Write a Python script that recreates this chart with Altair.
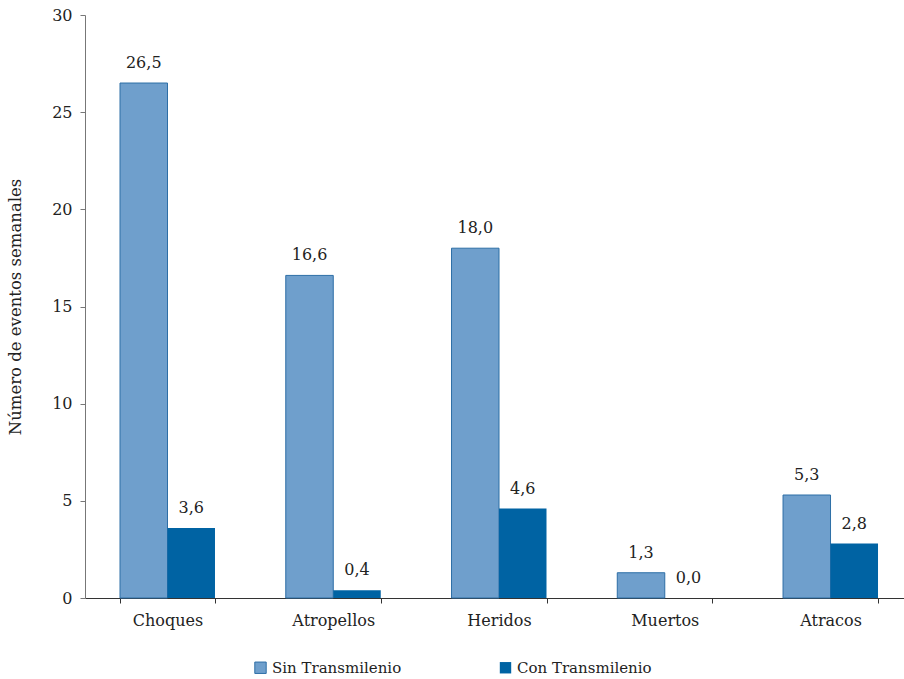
import altair as alt
import pandas as pd

categories = ["Choques", "Atropellos", "Heridos", "Muertos", "Atracos"]
series = ["Sin Transmilenio", "Con Transmilenio"]
sin_vals = [26.5, 16.6, 18.0, 1.3, 5.3]
con_vals = [3.6, 0.4, 4.6, 0.0, 2.8]

rows = []
for c, s, k in zip(categories, sin_vals, con_vals):
    rows.append({"cat": c, "serie": series[0], "valor": s})
    rows.append({"cat": c, "serie": series[1], "valor": k})
df = pd.DataFrame(rows)

FONT = "DejaVu Serif"

base = alt.Chart(df).encode(
    x=alt.X("cat:N", sort=categories,
            scale=alt.Scale(paddingInner=0.427, paddingOuter=0.184, align=0.574),
            axis=alt.Axis(title=None, labelAngle=0, labelFontSize=16, labelFont=FONT,
                          labelColor="#222", labelPadding=9, tickBand="extent",
                          tickSize=5, domainColor="#333", tickColor="#333")),
    xOffset=alt.XOffset("serie:N", sort=series),
    y=alt.Y("valor:Q", scale=alt.Scale(domain=[0, 30]),
            axis=alt.Axis(title="Número de eventos semanales", values=[0, 5, 10, 15, 20, 25, 30],
                          labelFontSize=16, labelFont=FONT, labelColor="#222", labelPadding=8,
                          titleFont=FONT, titleFontSize=16.5, titleFontWeight="normal",
                          titleColor="#222", titlePadding=28, grid=False, tickSize=5,
                          domainColor="#777", tickColor="#777")),
)

bars = base.mark_bar(strokeWidth=1).encode(
    color=alt.Color("serie:N", sort=series,
                    scale=alt.Scale(domain=series, range=["#6f9fcc", "#0063a3"]),
                    legend=alt.Legend(title=None, orient="none", direction="horizontal",
                                      legendX=168, legendY=645, symbolType="square",
                                      symbolSize=130, labelFontSize=15, labelFont=FONT,
                                      labelColor="#222", columnPadding=95,
                                      symbolStrokeColor="#2d6ea6", symbolStrokeWidth=1)),
    stroke=alt.Stroke("serie:N", sort=series,
                      scale=alt.Scale(domain=series, range=["#2d6ea6", "transparent"]),
                      legend=None),
)

labels = base.transform_calculate(
    lab="replace(format(datum.valor, '.1f'), '.', ',')"
).mark_text(dy=-20, fontSize=16, font=FONT, color="#222").encode(text="lab:N")

chart = (bars + labels).properties(
    width=819, height=583,
    autosize=alt.AutoSizeParams(type="none"),
    padding={"left": 85, "top": 15, "right": 0, "bottom": 81},
).configure_view(stroke=None)

chart.save("out.html", embed_options={"renderer": "svg", "actions": False})
